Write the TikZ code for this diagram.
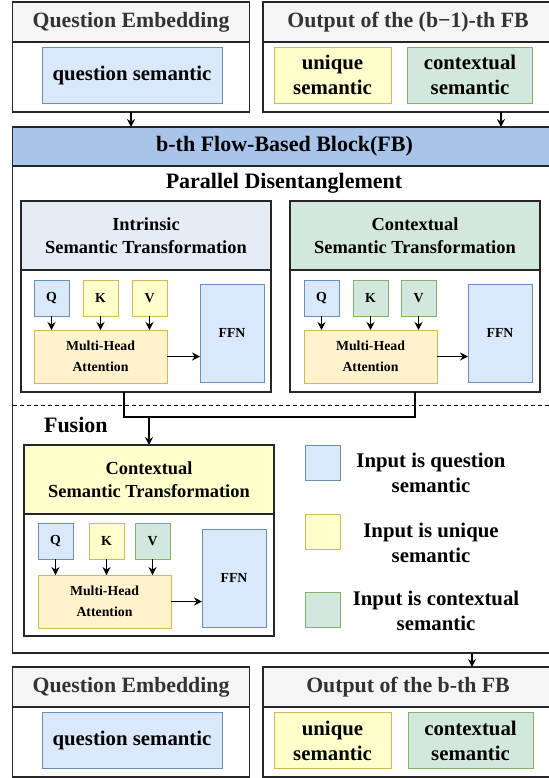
\documentclass[tikz,border=0pt]{standalone}
\usepackage{fontspec}
\setmainfont{Liberation Serif}[BoldFont={Liberation Serif Bold}]
\usetikzlibrary{arrows.meta}
\definecolor{hdgray}{HTML}{F5F5F5}
\definecolor{hdtext}{HTML}{333333}
\definecolor{qfill}{HTML}{DAE8FC}
\definecolor{qline}{HTML}{6C8EBF}
\definecolor{ufill}{HTML}{FFFFCC}
\definecolor{uline}{HTML}{D6B656}
\definecolor{afill}{HTML}{FFF2CC}
\definecolor{cfill}{HTML}{D2E8DD}
\definecolor{cline}{HTML}{82B366}
\definecolor{fbfill}{HTML}{A9C4EB}
\definecolor{ifill}{HTML}{E6ECF5}
\newcommand{\hdfont}{\fontsize{10.9}{13}\selectfont\bfseries}
\newcommand{\semfont}{\fontsize{10.4}{12.5}\selectfont\bfseries}
\newcommand{\fbfont}{\fontsize{11}{13}\selectfont\bfseries}
\newcommand{\blkfont}{\fontsize{9.2}{11.5}\selectfont\bfseries}
\newcommand{\qkvfont}{\fontsize{6.9}{10.4}\selectfont\bfseries}

\begin{document}
\begin{tikzpicture}[x=0.5pt,y=-0.5pt,
  >={Stealth[length=4pt,width=4pt]},
  outerbox/.style={draw=black!85, line width=0.6pt, inner sep=0pt, outer sep=0pt, anchor=north west, align=center},
  semcell/.style={line width=0.5pt, inner sep=0pt, outer sep=0pt, anchor=north west, align=center},
  qcell/.style={semcell, draw=qline, fill=qfill},
  ucell/.style={semcell, draw=uline, fill=ufill},
  ccell/.style={semcell, draw=cline, fill=cfill},
  acell/.style={semcell, draw=uline, fill=afill},
  inhead/.style={outerbox, fill=hdgray, text=hdtext, font=\hdfont, minimum height=20pt},
  inpair/.style={minimum width=#1, minimum height=28pt, font=\semfont},
  blkhead/.style={outerbox, minimum width=125pt, minimum height=34.5pt, font=\blkfont},
  blkbody/.style={outerbox, minimum width=125pt, minimum height=61pt},
  qkv/.style={minimum width=17.5pt, minimum height=18pt, font=\qkvfont},
  mha/.style={acell, minimum width=66.5pt, minimum height=26.5pt, font=\qkvfont},
  ffn/.style={qcell, minimum width=32pt, minimum height=49pt, font=\qkvfont},
  legsq/.style={minimum width=17.5pt, minimum height=17.5pt},
  legtxt/.style={align=center, font=\semfont},
  link/.style={line width=0.6pt}]
\path[use as bounding box, fill=white] (0,0) rectangle (549,778);

\node[inhead, minimum width=118.5pt] (qeh1) at (12.5,2) {Question Embedding};
\node[outerbox, minimum width=118.5pt, minimum height=35pt] (qeb1) at (12.5,42) {};
\node[qcell, inpair=90pt] (qs1) at (42,47) {question semantic};
\node[inhead, minimum width=145pt] (outh1) at (263,2) {Output of the (b−1)-th FB};
\node[outerbox, minimum width=145pt, minimum height=35pt] (outb1) at (263,42) {};
\node[ucell, inpair=58.5pt] (us1) at (274,47) {unique\\semantic};
\node[ccell, inpair=62.5pt] (cs1) at (407.5,47) {contextual\\semantic};

\node[outerbox, fill=fbfill, minimum width=272pt, minimum height=19.5pt, font=\fbfont] (fbh) at (12.5,127) {b-th Flow-Based Block(FB)};
\node[outerbox, minimum width=272pt, minimum height=243.5pt] (fbb) at (12.5,166) {};
\node[font=\fbfont] (pd) at (284,183) {Parallel Disentanglement};

\begin{scope}[shift={(21,201)}]
\node[blkhead, fill=ifill] (ih) at (0,0) {Intrinsic\\Semantic Transformation};
\node[blkbody] (ib) at (0,69) {};
\node[qcell, qkv] (iq) at (13,79) {Q};
\node[ucell, qkv] (ik) at (62,79) {K};
\node[ucell, qkv] (iv) at (111,79) {V};
\node[mha] (ia) at (13,129) {Multi-Head\\Attention};
\node[ffn] (iff) at (179,83) {FFN};
\end{scope}

\begin{scope}[shift={(290,201)}]
\node[blkhead, fill=cfill] (ch) at (0,0) {Contextual\\Semantic Transformation};
\node[blkbody] (cb) at (0,69) {};
\node[qcell, qkv] (cq) at (14,79) {Q};
\node[ccell, qkv] (ck) at (63,79) {K};
\node[ccell, qkv] (cv) at (111,79) {V};
\node[mha] (ca) at (14,129) {Multi-Head\\Attention};
\node[ffn] (cff) at (178,83) {FFN};
\end{scope}

\draw[dashed, line width=0.5pt, dash pattern=on 2pt off 1.5pt] (fbb.west |- 0,405) -- (fbb.east |- 0,405);
\node[font=\fbfont, anchor=west] (fus) at (37,425) {Fusion};

\begin{scope}[shift={(24,445)}]
\node[blkhead, fill=ufill] (fh) at (0,0) {Contextual\\Semantic Transformation};
\node[blkbody] (fb) at (0,69) {};
\node[qcell, qkv] (fq) at (14,78) {Q};
\node[ucell, qkv] (fk) at (65,78) {K};
\node[ccell, qkv] (fv) at (111,78) {V};
\node[mha] (fa) at (14,130) {Multi-Head\\Attention};
\node[ffn] (fff) at (178,84) {FFN};
\end{scope}

\node[qcell, legsq] (lq) at (305.5,445) {};
\node[ucell, legsq] (lu) at (305.5,514.5) {};
\node[ccell, legsq] (lc) at (305.5,592) {};
\node[legtxt] (lqt) at (431,473) {Input is question\\semantic};
\node[legtxt] (lut) at (431,543) {Input is unique\\semantic};
\node[legtxt] (lct) at (436,611) {Input is contextual\\semantic};

\node[inhead, minimum width=118.5pt] (qeh2) at (12.5,667) {Question Embedding};
\node[outerbox, minimum width=118.5pt, minimum height=35pt] (qeb2) at (12.5,707) {};
\node[qcell, inpair=90pt] (qs2) at (42,712.5) {question semantic};
\node[inhead, minimum width=145pt] (outh2) at (263,667) {Output of the b-th FB};
\node[outerbox, minimum width=145pt, minimum height=35pt] (outb2) at (263,707) {};
\node[ucell, inpair=58.5pt] (us2) at (274,712.5) {unique\\semantic};
\node[ccell, inpair=62.5pt] (cs2) at (408,712.5) {contextual\\semantic};

\draw[link,->] (qeb1.south) -- (qeb1.south |- fbh.north);
\draw[link,->] ([xshift=46.5pt]outb1.south) -- ([xshift=46.5pt]outb1.south |- fbh.north);
\foreach \blk in {i,c,f} {
  \draw[link,->] (\blk q) -- (\blk q |- \blk a.north);
  \draw[link,->] (\blk k) -- (\blk k |- \blk a.north);
  \draw[link,->] (\blk v) -- (\blk v |- \blk a.north);
  \draw[link,->] (\blk a.east) -- (\blk a.east -| \blk ff.west);
}
\coordinate (join) at (149,417);
\draw[link] ([xshift=-11pt]ib.south) |- (join) -| (cb.south);
\draw[link,->] (join) -- (fh.north);
\draw[link,->] ([xshift=32pt]outh2.north |- fbb.south) -- ([xshift=32pt]outh2.north);
\end{tikzpicture}
\end{document}
